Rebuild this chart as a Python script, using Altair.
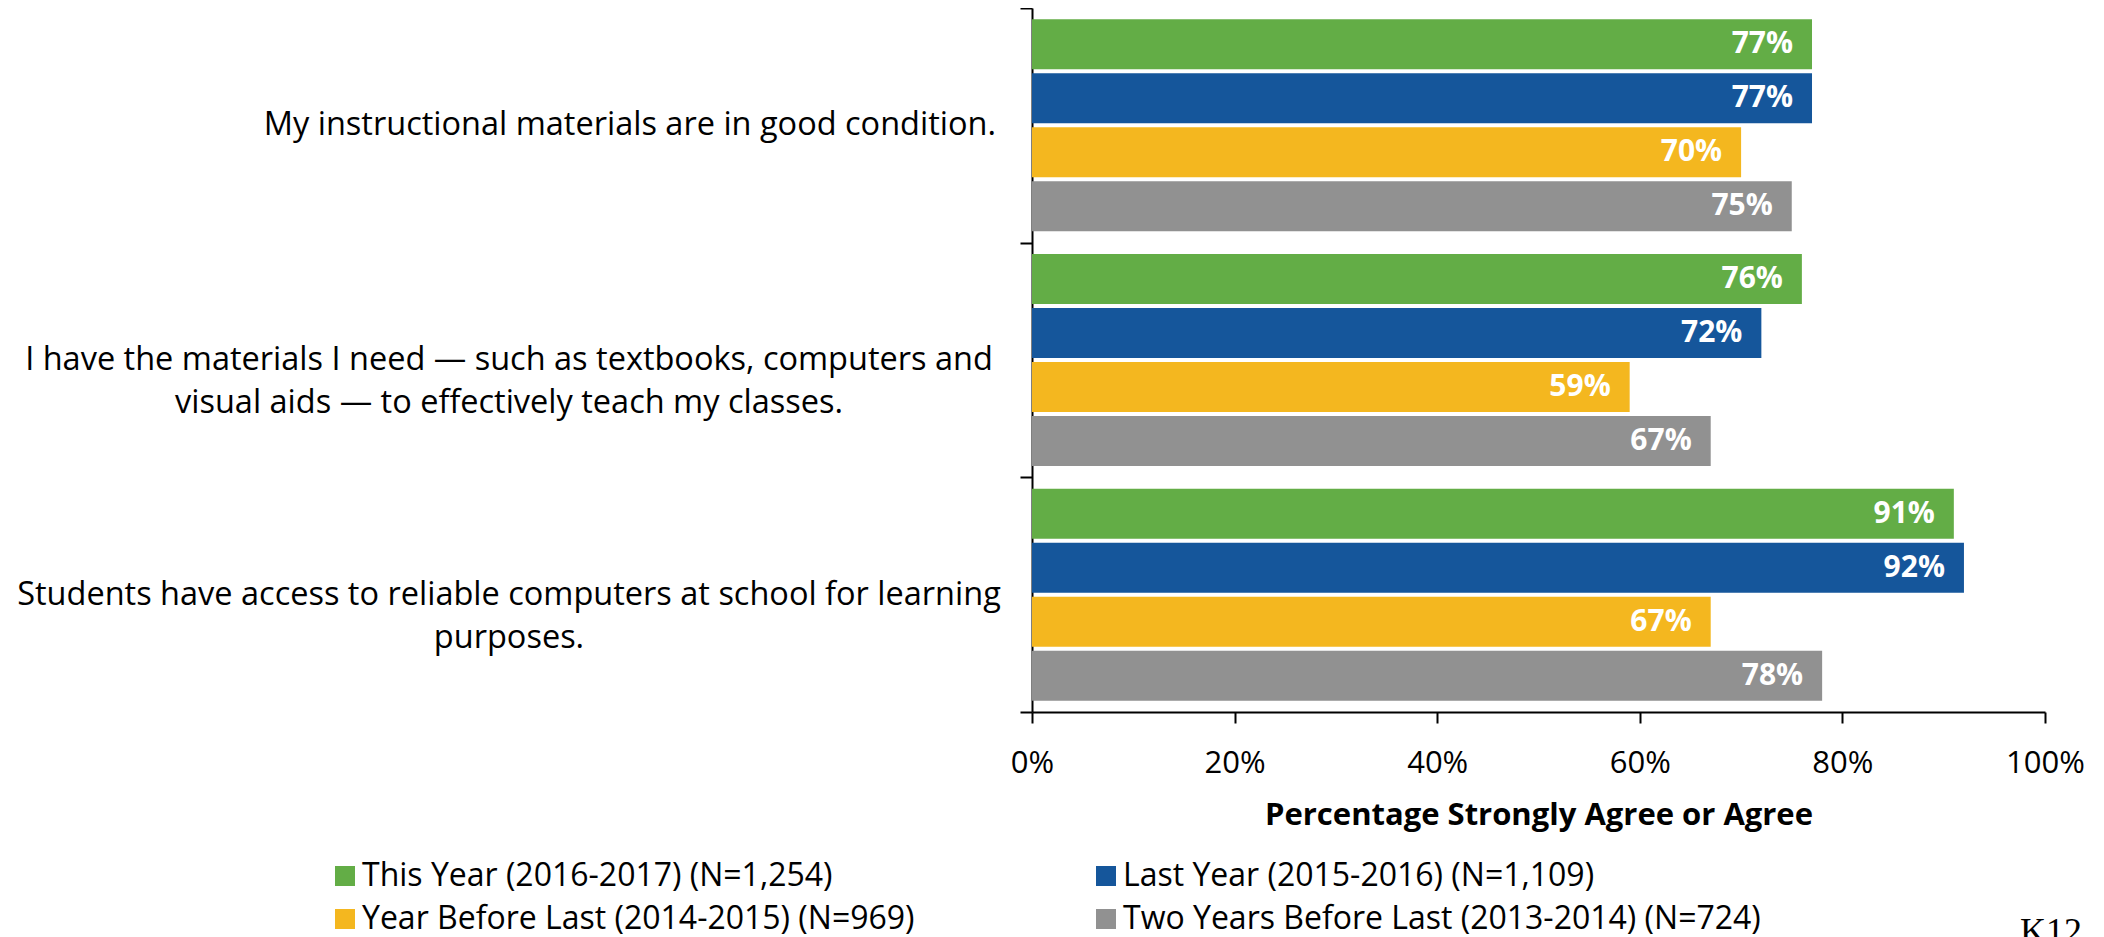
import altair as alt
import pandas as pd

questions = [
    "My instructional materials are in good condition.",
    "I have the materials I need — such as textbooks, computers and|visual aids — to effectively teach my classes.",
    "Students have access to reliable computers at school for learning|purposes.",
]
series = [
    "This Year (2016-2017) (N=1,254)",
    "Last Year (2015-2016) (N=1,109)",
    "Year Before Last (2014-2015) (N=969)",
    "Two Years Before Last (2013-2014) (N=724)",
]
this_year = [77, 76, 91]
last_year = [77, 72, 92]
year_before_last = [70, 59, 67]
two_years_before_last = [75, 67, 78]
colors = ["#63AD46", "#15569B", "#F4B71F", "#919191"]
x_ticks = [0, 20, 40, 60, 80, 100]
footer_text = ["K12"]

rows = []
for s, vals in zip(series, [this_year, last_year, year_before_last, two_years_before_last]):
    for q, v in zip(questions, vals):
        rows.append({"question": q, "series": s, "value": v, "label": f"{v}%"})
df = pd.DataFrame(rows)
qdf = pd.DataFrame({"question": questions,
                    "multi": ["|" in q for q in questions]})

# legend fills column by column: reorder so rows read like the reference
legend_order = [series[0], series[2], series[1], series[3]]
legend_colors = [colors[0], colors[2], colors[1], colors[3]]

FONT = "Open Sans"

y_axis = alt.Axis(
    title=None,
    labels=False,
    tickBand="extent",
    tickSize=12,
    tickWidth=2,
    tickColor="black",
    domainWidth=2,
    domainColor="black",
)

x_axis = alt.Axis(
    values=x_ticks,
    labelExpr="datum.value + '%'",
    labelFlush=False,
    grid=False,
    tickSize=11,
    tickWidth=2,
    tickColor="black",
    domainWidth=2,
    domainColor="black",
    labelFont=FONT,
    labelFontSize=31,
    labelColor="black",
    labelPadding=25,
    title="Percentage Strongly Agree or Agree",
    titleFont=FONT,
    titleFontSize=31,
    titleFontWeight="bold",
    titleColor="black",
    titlePadding=22,
)

y_enc = alt.Y("question:N", sort=questions,
              scale=alt.Scale(paddingInner=0, paddingOuter=0), axis=y_axis)

base = alt.Chart(df).encode(
    y=y_enc,
    yOffset=alt.YOffset("series:N", sort=series,
                        scale=alt.Scale(paddingInner=0.074, paddingOuter=0.21)),
    x=alt.X("value:Q", scale=alt.Scale(domain=[0, 100]), axis=x_axis),
)

bars = base.mark_bar().encode(
    color=alt.Color(
        "series:N",
        scale=alt.Scale(domain=legend_order, range=legend_colors),
        legend=alt.Legend(
            title=None, orient="none", legendX=-703, legendY=852,
            columns=2, columnPadding=175, rowPadding=11,
            symbolType="square", symbolSize=400, symbolStrokeWidth=0,
            labelFont=FONT, labelFontSize=32, labelColor="black",
            labelLimit=1200, labelOffset=1, padding=0,
        ),
    )
)

texts = base.mark_text(
    align="right", baseline="middle", dx=-19, color="white",
    font=FONT, fontWeight="bold", fontSize=30,
).encode(text="label:N")

qbase = alt.Chart(qdf).encode(y=y_enc, text="question:N")
q_single = qbase.transform_filter("!datum.multi").mark_text(
    align="right", baseline="middle", font=FONT, fontSize=32.5, color="black",
    lineBreak="|", lineHeight=43,
).encode(x=alt.value(-36))
q_multi = qbase.transform_filter("datum.multi").mark_text(
    align="center", baseline="middle", font=FONT, fontSize=32.5, color="black",
    lineBreak="|", lineHeight=43,
).encode(x=alt.value(-523))

footer = alt.Chart(pd.DataFrame({"t": footer_text})).mark_text(
    align="left", baseline="alphabetic", font="Liberation Serif",
    fontSize=36, color="black",
).encode(x=alt.value(988), y=alt.value(935), text="t:N")

chart = (
    alt.layer(bars, texts, q_single, q_multi, footer)
    .properties(
        width=1013, height=704,
        autosize=alt.AutoSizeParams(type="none"),
        padding={"left": 1024, "top": 0, "right": 51, "bottom": 240},
    )
    .configure_view(stroke=None)
)

chart.save("out.html", embed_options={"renderer": "svg", "actions": False})
